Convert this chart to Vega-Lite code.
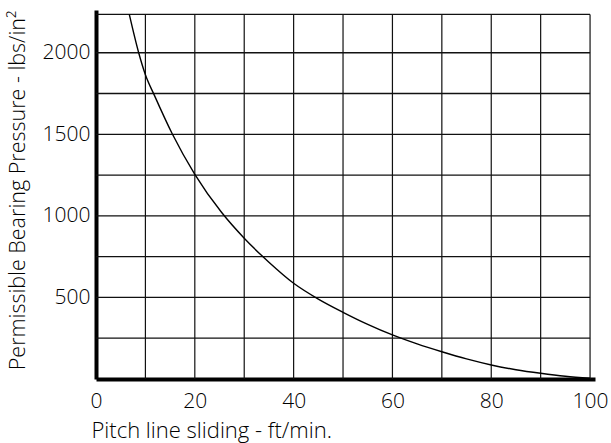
{
  "$schema": "https://vega.github.io/schema/vega-lite/v6.json",
  "width": 499,
  "height": 369,
  "autosize": {"type": "none"},
  "padding": {"left": 96, "top": 10, "right": 16, "bottom": 64},
  "background": "white",
  "config": {"view": {"stroke": null}, "font": "Open Sans"},
  "datasets": {
    "curve": [
      {"x": 6.74, "y": 2235},
      {"x": 8.64, "y": 2000},
      {"x": 10, "y": 1865},
      {"x": 11.8, "y": 1740},
      {"x": 15.4, "y": 1505},
      {"x": 20, "y": 1255},
      {"x": 25.4, "y": 1022},
      {"x": 30, "y": 863},
      {"x": 35, "y": 716},
      {"x": 40, "y": 587},
      {"x": 45, "y": 490},
      {"x": 50, "y": 409},
      {"x": 55, "y": 335},
      {"x": 60, "y": 270},
      {"x": 65, "y": 215},
      {"x": 70, "y": 167},
      {"x": 75, "y": 123},
      {"x": 80, "y": 86},
      {"x": 85, "y": 57},
      {"x": 90, "y": 35},
      {"x": 95, "y": 17},
      {"x": 100, "y": 5}
    ],
    "vgrid": [
      {"x": 10, "y": 0, "y2": 2235},
      {"x": 20, "y": 0, "y2": 2235},
      {"x": 30, "y": 0, "y2": 2235},
      {"x": 40, "y": 0, "y2": 2235},
      {"x": 50, "y": 0, "y2": 2235},
      {"x": 60, "y": 0, "y2": 2235},
      {"x": 70, "y": 0, "y2": 2235},
      {"x": 80, "y": 0, "y2": 2235},
      {"x": 90, "y": 0, "y2": 2235},
      {"x": 100, "y": 0, "y2": 2235}
    ],
    "hgrid": [
      {"y": 250, "x": 0, "x2": 100},
      {"y": 500, "x": 0, "x2": 100},
      {"y": 750, "x": 0, "x2": 100},
      {"y": 1000, "x": 0, "x2": 100},
      {"y": 1250, "x": 0, "x2": 100},
      {"y": 1500, "x": 0, "x2": 100},
      {"y": 1750, "x": 0, "x2": 100},
      {"y": 2000, "x": 0, "x2": 100},
      {"y": 2235, "x": 0, "x2": 100}
    ]
  },
  "encoding": {
    "x": {
      "field": "x",
      "type": "quantitative",
      "scale": {"domain": [0, 101], "nice": false, "zero": false},
      "axis": {
        "title": "Pitch line sliding - ft/min.",
        "values": [0, 20, 40, 60, 80, 100],
        "format": "d",
        "grid": false,
        "ticks": false,
        "domainColor": "black",
        "domainWidth": 4,
        "labelFontSize": 21,
        "labelColor": "black",
        "labelPadding": 11,
        "labelFlush": false,
        "labelFontWeight": 300,
        "titleFontSize": 22,
        "titleFontWeight": 300,
        "titleColor": "black",
        "titleAlign": "left",
        "titleAnchor": "start",
        "titleX": -5,
        "titleY": 58,
        "titleBaseline": "alphabetic"
      }
    },
    "y": {
      "field": "y",
      "type": "quantitative",
      "scale": {"domain": [0, 2262], "nice": false},
      "axis": {
        "title": "Permissible Bearing Pressure - lbs/in²",
        "values": [500, 1000, 1500, 2000],
        "format": "d",
        "grid": false,
        "ticks": false,
        "domainColor": "black",
        "domainWidth": 4,
        "labelFontSize": 21,
        "labelColor": "black",
        "labelPadding": 6,
        "labelFontWeight": 300,
        "titleFontSize": 21.5,
        "titleFontWeight": 300,
        "titleColor": "black",
        "titleAngle": -90,
        "titleAlign": "center",
        "titleBaseline": "middle",
        "titleX": -78,
        "titleY": 180
      }
    }
  },
  "layer": [
    {
      "data": {"name": "vgrid"},
      "mark": {"type": "rule", "color": "#111", "strokeWidth": 1.2},
      "encoding": {"y2": {"field": "y2"}}
    },
    {
      "data": {"name": "hgrid"},
      "mark": {"type": "rule", "color": "#111", "strokeWidth": 1.3},
      "encoding": {"x2": {"field": "x2"}}
    },
    {
      "data": {"name": "curve"},
      "mark": {"type": "line", "color": "black", "strokeWidth": 1.4, "interpolate": "monotone"},
      "encoding": {}
    }
  ]
}
